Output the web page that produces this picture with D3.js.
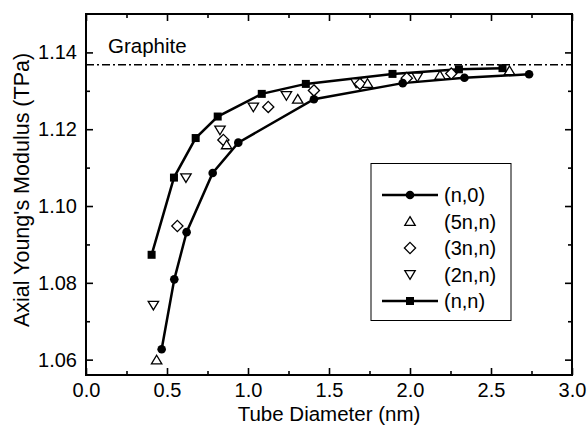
<!DOCTYPE html>
<html>
<head>
<meta charset="utf-8">
<script src="https://cdn.jsdelivr.net/npm/d3@7"></script>
<style>
  body { margin: 0; background: #fff; }
  svg { display: block; font-family: "Liberation Sans", Arial, sans-serif; }
</style>
</head>
<body>
<div id="chart"></div>
<script>
// data: [diameter nm, modulus TPa]
const zigzag = [[0.467,1.0627],[0.545,1.0809],[0.621,1.0932],[0.782,1.1086],[0.940,1.1165],
                [1.407,1.1278],[1.955,1.1320],[2.336,1.1334],[2.735,1.1343]];          // (n,0)
const chiral5 = [[0.436,1.0599],[0.868,1.1159],[1.307,1.1278],[1.738,1.1319],[2.185,1.1340],[2.614,1.1352]]; // (5n,n)
const chiral3 = [[0.564,1.0948],[0.848,1.1172],[1.125,1.1258],[1.407,1.1301],[1.691,1.1318],[1.980,1.1333],[2.255,1.1345]]; // (3n,n)
const chiral2 = [[0.416,1.0742],[0.617,1.1074],[0.827,1.1198],[1.033,1.1258],[1.237,1.1288],[1.667,1.1321],[2.045,1.1336]]; // (2n,n)
const armchair = [[0.405,1.0873],[0.543,1.1074],[0.677,1.1177],[0.813,1.1233],[1.085,1.1292],
                  [1.357,1.1318],[1.892,1.1344],[2.302,1.1356],[2.571,1.1359]];       // (n,n)
const graphite = 1.1368;
const xTicks = [0, 0.5, 1.0, 1.5, 2.0, 2.5, 3.0];
const yTicks = [1.06, 1.08, 1.10, 1.12, 1.14];
const legendNames = ["(n,0)", "(5n,n)", "(3n,n)", "(2n,n)", "(n,n)"];

const W = 587, H = 431;
const svg = d3.select("#chart").append("svg").attr("width", W).attr("height", H);

const x = d3.scaleLinear().domain([0, 3]).range([86, 572]);
const y = d3.scaleLinear().domain([1.056, 1.15]).range([375, 14]);

// axes, ticks pointing inward
const xMinor = d3.range(0.25, 3, 0.5);
const yMinor = [1.07, 1.09, 1.11, 1.13];

svg.append("g").attr("transform", "translate(0,375)")
  .call(d3.axisBottom(x).tickValues(xTicks).tickSize(-7).tickPadding(8).tickFormat(d3.format(".1f")));
svg.append("g").attr("transform", "translate(0,375)")
  .call(d3.axisBottom(x).tickValues(xMinor).tickSize(-4).tickFormat(""));
svg.append("g").attr("transform", "translate(0,14)")
  .call(d3.axisTop(x).tickValues(xTicks).tickSize(-7).tickFormat(""));
svg.append("g").attr("transform", "translate(0,14)")
  .call(d3.axisTop(x).tickValues(xMinor).tickSize(-4).tickFormat(""));
svg.append("g").attr("transform", "translate(86,0)")
  .call(d3.axisLeft(y).tickValues(yTicks).tickSize(-7).tickPadding(9).tickFormat(d3.format(".2f")));
svg.append("g").attr("transform", "translate(86,0)")
  .call(d3.axisLeft(y).tickValues(yMinor).tickSize(-4).tickFormat(""));
svg.append("g").attr("transform", "translate(572,0)")
  .call(d3.axisRight(y).tickValues(yTicks).tickSize(-7).tickFormat(""));
svg.append("g").attr("transform", "translate(572,0)")
  .call(d3.axisRight(y).tickValues(yMinor).tickSize(-4).tickFormat(""));

svg.selectAll(".domain").remove();
svg.selectAll(".tick line").attr("stroke", "#000").attr("stroke-width", 1.6);
svg.selectAll(".tick text").attr("font-size", 20).attr("fill", "#000")
  .attr("font-family", "Liberation Sans, Arial, sans-serif");

svg.append("rect").attr("x", 86).attr("y", 14).attr("width", 486).attr("height", 361)
  .attr("fill", "none").attr("stroke", "#000").attr("stroke-width", 2);

// axis titles
svg.append("text").attr("x", 329).attr("y", 421).attr("text-anchor", "middle")
  .attr("font-size", 20.5).text("Tube Diameter (nm)");
svg.append("text").attr("transform", "translate(29,190) rotate(-90)").attr("text-anchor", "middle")
  .attr("font-size", 21.5).text("Axial Young's Modulus (TPa)");

// graphite reference
svg.append("line").attr("x1", x(0)).attr("x2", x(3)).attr("y1", y(graphite)).attr("y2", y(graphite))
  .attr("stroke", "#000").attr("stroke-width", 1.5).attr("stroke-dasharray", "8,3,2,3");
svg.append("text").attr("x", 108).attr("y", 53).attr("font-size", 20.5).text("Graphite");

// marker shapes
function circ(g, cx, cy) { g.append("circle").attr("cx", cx).attr("cy", cy).attr("r", 4.3).attr("fill", "#000"); }
function sq(g, cx, cy) { g.append("rect").attr("x", cx - 4).attr("y", cy - 4).attr("width", 8).attr("height", 8).attr("fill", "#000"); }
function triUp(g, cx, cy) {
  g.append("path").attr("d", `M${cx},${cy - 4.8}L${cx + 5.2},${cy + 3.8}L${cx - 5.2},${cy + 3.8}Z`)
    .attr("fill", "#fff").attr("stroke", "#000").attr("stroke-width", 1.3);
}
function triDown(g, cx, cy) {
  g.append("path").attr("d", `M${cx},${cy + 4.8}L${cx + 5.2},${cy - 3.8}L${cx - 5.2},${cy - 3.8}Z`)
    .attr("fill", "#fff").attr("stroke", "#000").attr("stroke-width", 1.3);
}
function dia(g, cx, cy) {
  g.append("path").attr("d", `M${cx},${cy - 5.6}L${cx + 5.6},${cy}L${cx},${cy + 5.6}L${cx - 5.6},${cy}Z`)
    .attr("fill", "#fff").attr("stroke", "#000").attr("stroke-width", 1.3);
}

const line = d3.line().x(d => x(d[0])).y(d => y(d[1]));
const plot = svg.append("g");

plot.append("path").datum(zigzag).attr("d", line).attr("fill", "none").attr("stroke", "#000").attr("stroke-width", 2.5);
plot.append("path").datum(armchair).attr("d", line).attr("fill", "none").attr("stroke", "#000").attr("stroke-width", 2.5);

chiral2.forEach(d => triDown(plot, x(d[0]), y(d[1])));
chiral3.forEach(d => dia(plot, x(d[0]), y(d[1])));
chiral5.forEach(d => triUp(plot, x(d[0]), y(d[1])));
zigzag.forEach(d => circ(plot, x(d[0]), y(d[1])));
armchair.forEach(d => sq(plot, x(d[0]), y(d[1])));

// legend
const lg = svg.append("g");
lg.append("rect").attr("x", 371).attr("y", 163.5).attr("width", 140).attr("height", 157)
  .attr("fill", "#fff").attr("stroke", "#000").attr("stroke-width", 1);
const drawers = [circ, triUp, dia, triDown, sq];
legendNames.forEach((name, i) => {
  const ly = 195 + i * 26.5;
  if (i === 0 || i === 4) {
    lg.append("line").attr("x1", 382).attr("x2", 438).attr("y1", ly).attr("y2", ly)
      .attr("stroke", "#000").attr("stroke-width", 2.5);
  }
  drawers[i](lg, 410, ly);
  lg.append("text").attr("x", 444).attr("y", ly).attr("dy", "0.35em").attr("font-size", 20).text(name);
});
</script>
</body>
</html>
